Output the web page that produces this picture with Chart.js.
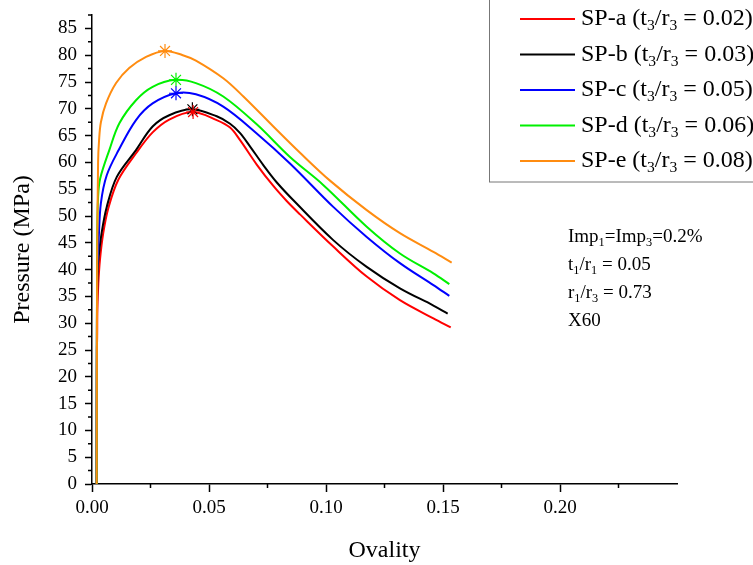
<!DOCTYPE html>
<html>
<head>
<meta charset="utf-8">
<script src="https://cdn.jsdelivr.net/npm/chart.js@4.4.1/dist/chart.umd.min.js"></script>
<style>
  html, body { margin: 0; padding: 0; background: #fff; }
  #wrap { width: 753px; height: 565px; }
</style>
</head>
<body>
<div id="wrap"><canvas id="chart"></canvas></div>
<script>
// series names, t3/r3 ratios, colours
const names = ["SP-a", "SP-b", "SP-c", "SP-d", "SP-e"];
const ratios = ["0.02", "0.03", "0.05", "0.06", "0.08"];
const colors = ["#ff0000", "#000000", "#0000ff", "#00f000", "#ff8c10"];

// ovality / pressure (MPa)
const ovalityA = [0.0020, 0.0021, 0.0022, 0.0023, 0.0027, 0.0034, 0.0048, 0.0070, 0.0113, 0.0190, 0.0259, 0.0330, 0.0430, 0.0533, 0.0590, 0.0632, 0.0704, 0.0775, 0.0832, 0.0889, 0.1031, 0.1174, 0.1316, 0.1459, 0.1533];
const pressureA = [0, 25, 27.5, 32.5, 37.4, 41.8, 46.8, 51.5, 56.8, 61.8, 65.6, 68.0, 69.4, 67.9, 66.5, 64.2, 59.6, 55.6, 52.8, 50.3, 44.3, 38.7, 34.3, 30.9, 29.2];

const ovalityB = [0.0020, 0.0021, 0.0022, 0.0024, 0.0027, 0.0041, 0.0063, 0.0106, 0.0188, 0.0259, 0.0330, 0.0427, 0.0533, 0.0590, 0.0632, 0.0675, 0.0732, 0.0789, 0.0868, 0.1031, 0.1174, 0.1316, 0.1459, 0.1520];
const pressureB = [0, 30, 36.2, 39.9, 41.8, 46.8, 51.7, 57.3, 62.3, 66.7, 68.8, 69.9, 68.6, 67.2, 65.5, 63.0, 59.5, 56.3, 52.6, 45.5, 40.5, 36.5, 33.3, 31.8];

const ovalityC = [0.0020, 0.0022, 0.0026, 0.0029, 0.0038, 0.0063, 0.0114, 0.0188, 0.0259, 0.0359, 0.0444, 0.0561, 0.0704, 0.0846, 0.1031, 0.1174, 0.1316, 0.1459, 0.1527];
const pressureC = [0, 40, 43.0, 46.1, 52.4, 57.6, 62.3, 67.9, 71.0, 72.9, 72.7, 70.4, 65.4, 59.8, 51.7, 46.1, 41.2, 37.1, 35.1];

const ovalityD = [0.0020, 0.0022, 0.0026, 0.0035, 0.0074, 0.0117, 0.0188, 0.0259, 0.0356, 0.0444, 0.0561, 0.0704, 0.0846, 0.0988, 0.1174, 0.1316, 0.1459, 0.1527];
const pressureD = [0, 45, 53.6, 57.0, 62.3, 67.3, 71.6, 74.1, 75.4, 74.8, 72.3, 67.1, 61.0, 55.8, 48.0, 43.0, 39.3, 37.3];

const ovalityE = [0.0020, 0.0022, 0.0026, 0.0030, 0.0038, 0.0060, 0.0103, 0.0159, 0.0231, 0.0312, 0.0388, 0.0444, 0.0561, 0.0647, 0.0775, 0.0889, 0.1017, 0.1174, 0.1316, 0.1459, 0.1537];
const pressureE = [0, 40, 60.0, 64.0, 67.5, 71.0, 74.8, 77.6, 79.7, 80.8, 80.0, 79.0, 75.7, 72.3, 66.7, 61.8, 56.6, 51.1, 46.8, 43.3, 41.3];

// peak markers (stars)
const peakOvality = [0.0432, 0.0429, 0.0359, 0.0359, 0.0312];
const peakPressure = [69.4, 69.9, 72.9, 75.4, 80.8];

const xMax = 0.25;
const yMax = 87.5;

const ovalities = [ovalityA, ovalityB, ovalityC, ovalityD, ovalityE];
const pressures = [pressureA, pressureB, pressureC, pressureD, pressureE];

const datasets = [];
names.forEach((n, i) => {
  datasets.push({
    label: n,
    data: ovalities[i].map((x, k) => ({ x: x, y: pressures[i][k] })),
    showLine: true,
    borderColor: colors[i],
    borderWidth: 2,
    pointRadius: 0,
    tension: 0.35,
    order: 10 - i
  });
});
names.forEach((n, i) => {
  datasets.push({
    label: n + " peak",
    data: [{ x: peakOvality[i], y: peakPressure[i] }],
    pointStyle: "star",
    pointRadius: 7,
    borderColor: colors[i],
    backgroundColor: colors[i],
    borderWidth: 1.2,
    order: 0
  });
});

// text with subscripts: parts = [[text, isSub], ...]
function drawRich(ctx, parts, x, y, size) {
  let cx = x;
  parts.forEach(p => {
    const s = p[1] ? size * 0.65 : size;
    ctx.font = s + "px 'Liberation Serif'";
    ctx.fillText(p[0], cx, p[1] ? y + size * 0.3 : y);
    cx += ctx.measureText(p[0]).width;
  });
}

const extras = {
  id: "extras",
  afterDraw(chart) {
    const ctx = chart.ctx;
    const xs = chart.scales.x, ys = chart.scales.y;
    ctx.save();
    // minor ticks
    ctx.strokeStyle = "#000";
    ctx.lineWidth = 1.5;
    ctx.beginPath();
    for (let v = 2.5; v <= yMax + 0.01; v += 5) {
      const py = ys.getPixelForValue(v);
      ctx.moveTo(xs.left - 4, py); ctx.lineTo(xs.left, py);
    }
    for (let v = 0.025; v < xMax; v += 0.05) {
      const px = xs.getPixelForValue(v);
      ctx.moveTo(px, ys.bottom); ctx.lineTo(px, ys.bottom + 4);
    }
    ctx.stroke();

    // legend box
    ctx.fillStyle = "#fff";
    ctx.fillRect(489, -1, 270, 183);
    ctx.strokeStyle = "#777";
    ctx.lineWidth = 1;
    ctx.strokeRect(489.5, -1, 280, 183);
    ctx.textBaseline = "middle";
    names.forEach((n, i) => {
      const ly = 19 + i * 35.5;
      ctx.strokeStyle = colors[i];
      ctx.lineWidth = 2;
      ctx.beginPath();
      ctx.moveTo(520, ly); ctx.lineTo(575, ly);
      ctx.stroke();
      ctx.fillStyle = "#000";
      drawRich(ctx, [[n + " (t", 0], ["3", 1], ["/r", 0], ["3", 1], [" = " + ratios[i] + ")", 0]], 581, ly, 24);
    });

    // annotation
    ctx.fillStyle = "#000";
    const notes = [
      [["Imp", 0], ["1", 1], ["=Imp", 0], ["3", 1], ["=0.2%", 0]],
      [["t", 0], ["1", 1], ["/r", 0], ["1", 1], [" = 0.05", 0]],
      [["r", 0], ["1", 1], ["/r", 0], ["3", 1], [" = 0.73", 0]],
      [["X60", 0]]
    ];
    notes.forEach((parts, i) => drawRich(ctx, parts, 568, 237 + i * 28, 19));
    ctx.restore();
  }
};

const tickFont = { family: "'Liberation Serif'", size: 19 };
const titleFont = { family: "'Liberation Serif'", size: 24 };

new Chart(document.getElementById("chart"), {
  type: "scatter",
  data: { datasets: datasets },
  options: {
    responsive: true,
    maintainAspectRatio: false,
    animation: false,
    layout: { padding: { top: 15, right: 76, left: 0, bottom: 0 } },
    plugins: { legend: { display: false }, tooltip: { enabled: false } },
    scales: {
      x: {
        type: "linear",
        min: 0,
        max: xMax,
        border: { display: true, color: "#000", width: 1.5 },
        grid: {
          drawOnChartArea: false,
          drawTicks: true,
          tickLength: 8,
          tickWidth: 1.5,
          tickColor: c => (c.tick && c.tick.value > 0.24 ? "rgba(0,0,0,0)" : "#000")
        },
        ticks: {
          stepSize: 0.05,
          color: "#000",
          font: tickFont,
          padding: 5,
          maxRotation: 0,
          callback: v => (v > 0.24 ? "" : v.toFixed(2))
        },
        title: { display: true, text: "Ovality", color: "#000", font: titleFont, padding: { top: 8, bottom: 0 } },
        afterFit: s => { s.height = 81; s.paddingLeft = 0; s.paddingRight = 0; }
      },
      y: {
        type: "linear",
        min: 0,
        max: yMax,
        border: { display: true, color: "#000", width: 1.5 },
        grid: {
          drawOnChartArea: false,
          drawTicks: true,
          tickLength: 7,
          tickWidth: 1.5,
          tickColor: "#000"
        },
        ticks: {
          stepSize: 5,
          includeBounds: false,
          color: "#000",
          font: tickFont,
          padding: 8,
          callback: v => String(v)
        },
        title: { display: true, text: "Pressure (MPa)", color: "#000", font: titleFont, padding: { top: 8, bottom: 0 } },
        afterFit: s => { s.width = 92; s.paddingTop = 0; s.paddingBottom = 0; }
      }
    }
  },
  plugins: [extras]
});
</script>
</body>
</html>
